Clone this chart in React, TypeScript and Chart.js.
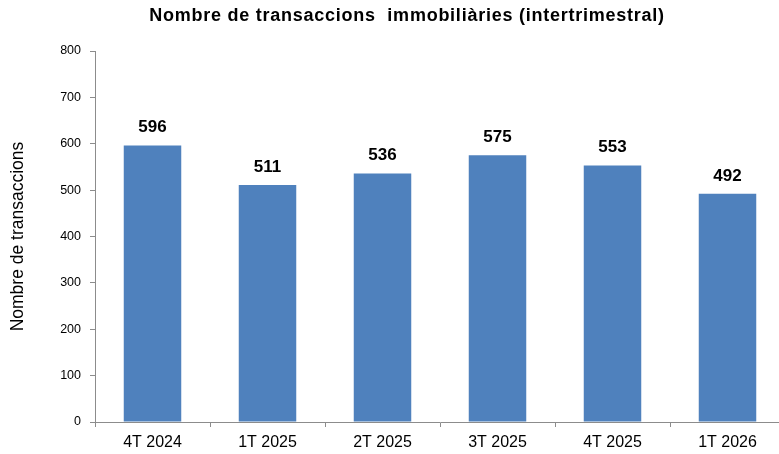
import React, { useEffect, useRef } from "react";
import { Chart, registerables } from "chart.js";

Chart.register(...registerables);

const categories = ["4T 2024", "1T 2025", "2T 2025", "3T 2025", "4T 2025", "1T 2026"];
const transactions = [596, 511, 536, 575, 553, 492];
const yTicks = [0, 100, 200, 300, 400, 500, 600, 700, 800];
const titleText = "Nombre de transaccions  immobiliàries (intertrimestral)";
const yAxisTitle = "Nombre de transaccions";

const FONT = "'Liberation Sans', Arial, sans-serif";

const overlayPlugin = {
  id: "overlay",
  afterDatasetsDraw(chart: any) {
    const ctx = chart.ctx;
    const meta = chart.getDatasetMeta(0);
    ctx.save();
    ctx.fillStyle = "#000";
    ctx.font = `bold 17px ${FONT}`;
    ctx.textAlign = "center";
    ctx.textBaseline = "middle";
    meta.data.forEach((bar: any, i: number) => {
      ctx.fillText(String(transactions[i]), bar.x, bar.y - 18);
    });
    ctx.font = `bold 18px ${FONT}`;
    try {
      (ctx as any).letterSpacing = "0.75px";
    } catch (e) {}
    ctx.fillText(titleText, 407, 16);
    ctx.restore();
  },
};

export default function App() {
  const ref = useRef<HTMLCanvasElement | null>(null);
  useEffect(() => {
    if (!ref.current) return;
    const chart = new Chart(ref.current, {
      type: "bar",
      data: {
        labels: categories,
        datasets: [
          {
            data: transactions,
            backgroundColor: "#4F81BD",
            borderWidth: 0,
            categoryPercentage: 1,
            barPercentage: 0.5,
          },
        ],
      },
      options: {
        animation: false,
        responsive: false,
        devicePixelRatio: 1,
        layout: { padding: { top: 51, right: 5, bottom: 0, left: 0 } },
        plugins: {
          legend: { display: false },
          title: { display: false },
          tooltip: { enabled: false },
        },
        scales: {
          x: {
            grid: { drawOnChartArea: false, drawTicks: true, tickLength: 5, color: "#8c8c8c", offset: true },
            border: { color: "#8c8c8c" },
            ticks: { color: "#000", font: { family: FONT, size: 16 }, padding: 6, maxRotation: 0 },
            afterFit: (s: any) => {
              s.height = 32;
            },
          },
          y: {
            min: 0,
            max: 800,
            afterBuildTicks: (s: any) => {
              s.ticks = yTicks.map((v) => ({ value: v }));
            },
            grid: { drawOnChartArea: false, drawTicks: true, tickLength: 5, color: "#8c8c8c" },
            border: { color: "#8c8c8c" },
            ticks: { color: "#000", font: { family: FONT, size: 12.5 }, padding: 9 },
            title: {
              display: true,
              text: yAxisTitle,
              color: "#000",
              font: { family: FONT, size: 17.5 },
              padding: { top: 8, bottom: 0 },
            },
            afterFit: (s: any) => {
              s.width = 95;
            },
          },
        },
      },
      plugins: [overlayPlugin],
    });
    return () => chart.destroy();
  }, []);
  return (
    <div style={{ position: "fixed", left: 0, top: 0, width: 779, height: 454, overflow: "hidden", background: "#fff" }}>
      <canvas ref={ref} width={790} height={454} style={{ display: "block" }} />
    </div>
  );
}
